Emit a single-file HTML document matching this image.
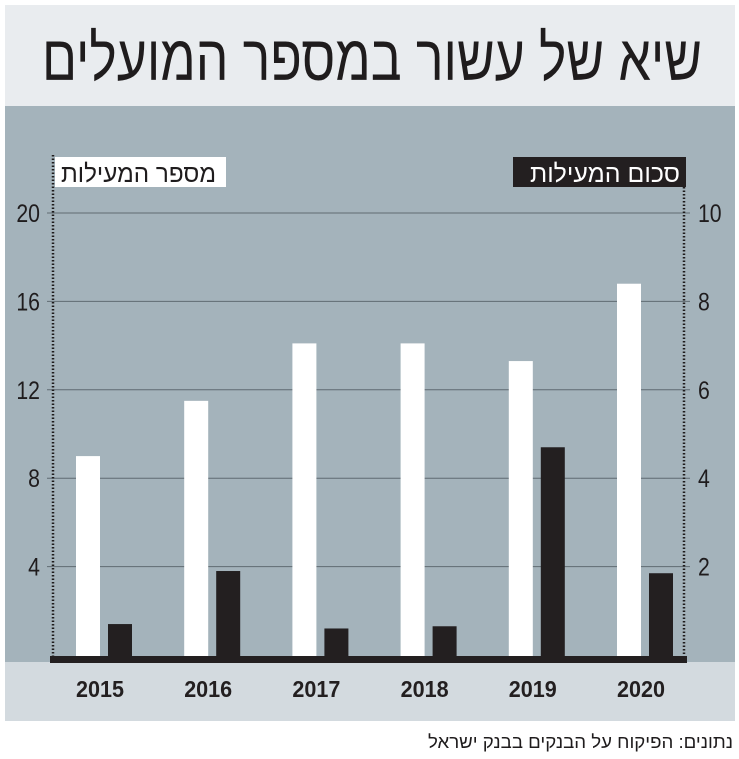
<!DOCTYPE html>
<html><head><meta charset="utf-8">
<style>
html,body{margin:0;padding:0;background:#fff;width:739px;height:759px;overflow:hidden;font-family:"Liberation Sans","DejaVu Sans",sans-serif;}
</style></head>
<body>
<svg id="chart" width="739" height="759" viewBox="0 0 739 759" xmlns="http://www.w3.org/2000/svg">
  <rect x="5" y="5" width="730" height="101" fill="#e9ecef"/>
  <text x="372" y="80" text-anchor="middle" font-family="Liberation Sans, DejaVu Sans, sans-serif" font-size="64" fill="#1f1c1d" textLength="660" lengthAdjust="spacingAndGlyphs">שיא של עשור במספר המועלים</text>
  <rect x="5" y="106" width="730" height="556" fill="#a4b3bb"/>
  <rect x="5" y="662" width="730" height="59" fill="#d3dadf"/>
  <g id="grid"></g>
  <g id="bars"></g>
  <line x1="53" y1="155" x2="53" y2="658" stroke="#1f1c1d" stroke-width="2.5" stroke-dasharray="1.5 2"/>
  <line x1="684" y1="187" x2="684" y2="658" stroke="#1f1c1d" stroke-width="2.5" stroke-dasharray="1.5 2"/>
  <rect x="50" y="656" width="637" height="7" fill="#231f20"/>
  <g>
    <rect x="55" y="157" width="171" height="30" fill="#fff"/>
    <text x="216" y="182" text-anchor="end" font-size="25" fill="#1f1c1d" textLength="155" lengthAdjust="spacingAndGlyphs">מספר המעילות</text>
  </g>
  <g>
    <rect x="513" y="157" width="173" height="30" fill="#231f20"/>
    <text x="680" y="182" text-anchor="end" font-size="25" fill="#fff" textLength="150" lengthAdjust="spacingAndGlyphs">סכום המעילות</text>
  </g>
  <text x="733" y="748" text-anchor="end" font-size="18" fill="#1f1c1d" textLength="305" lengthAdjust="spacingAndGlyphs">נתונים: הפיקוח על הבנקים בבנק ישראל</text>
</svg>
<script>
const years = ["2015","2016","2017","2018","2019","2020"];
const counts = [9.0, 11.5, 14.1, 14.1, 13.3, 16.8];
const amounts = [0.7, 1.9, 0.6, 0.65, 4.7, 1.85];
const leftTicks = [4, 8, 12, 16, 20];
const rightTicks = [2, 4, 6, 8, 10];

const NS = "http://www.w3.org/2000/svg";
const baseY = 655, topY = 213;
const yLeft = v => baseY - (baseY - topY) * v / 20;
const yRight = v => baseY - (baseY - topY) * v / 10;
const xCenter = i => 104 + i * 108.2;

function mk(tag, attrs, parent) {
  const el = document.createElementNS(NS, tag);
  for (const k in attrs) el.setAttribute(k, attrs[k]);
  parent.appendChild(el);
  return el;
}
const grid = document.getElementById("grid");
const bars = document.getElementById("bars");

leftTicks.forEach((t) => {
  const y = yLeft(t);
  const gl = mk("line", {x1: 47, x2: 690, y1: y, y2: y, stroke: "#5f6b72", "stroke-width": 1}, grid);
  
  
  const lt = mk("text", {x: 40, y: y + 9, "text-anchor": "end", "font-size": 25, fill: "#1f1c1d", transform: "translate(40 0) scale(0.85 1) translate(-40 0)"}, grid);
  lt.textContent = t;
  
  
});
rightTicks.forEach((t) => {
  const y = yRight(t);
  const rt = mk("text", {x: 698, y: y + 9, "text-anchor": "start", "font-size": 25, fill: "#1f1c1d", transform: "translate(698 0) scale(0.85 1) translate(-698 0)"}, grid);
  rt.textContent = t;
  
  
});

years.forEach((yr, i) => {
  const c = xCenter(i);
  const wy = yLeft(counts[i]);
  const wb = mk("rect", {x: c - 28, y: wy, width: 24, height: baseY - wy + 2, fill: "#ffffff"}, bars);
  
  
  const by = yRight(amounts[i]);
  const bb = mk("rect", {x: c + 4, y: by, width: 24, height: baseY - by + 2, fill: "#231f20"}, bars);
  
  
  const xl = mk("text", {x: c - 4, y: 697, "text-anchor": "middle", "font-size": 23, "font-weight": "bold", fill: "#231f20", textLength: 48, lengthAdjust: "spacingAndGlyphs"}, bars);
  xl.textContent = yr;
  
  
});
</script>
</body></html>
